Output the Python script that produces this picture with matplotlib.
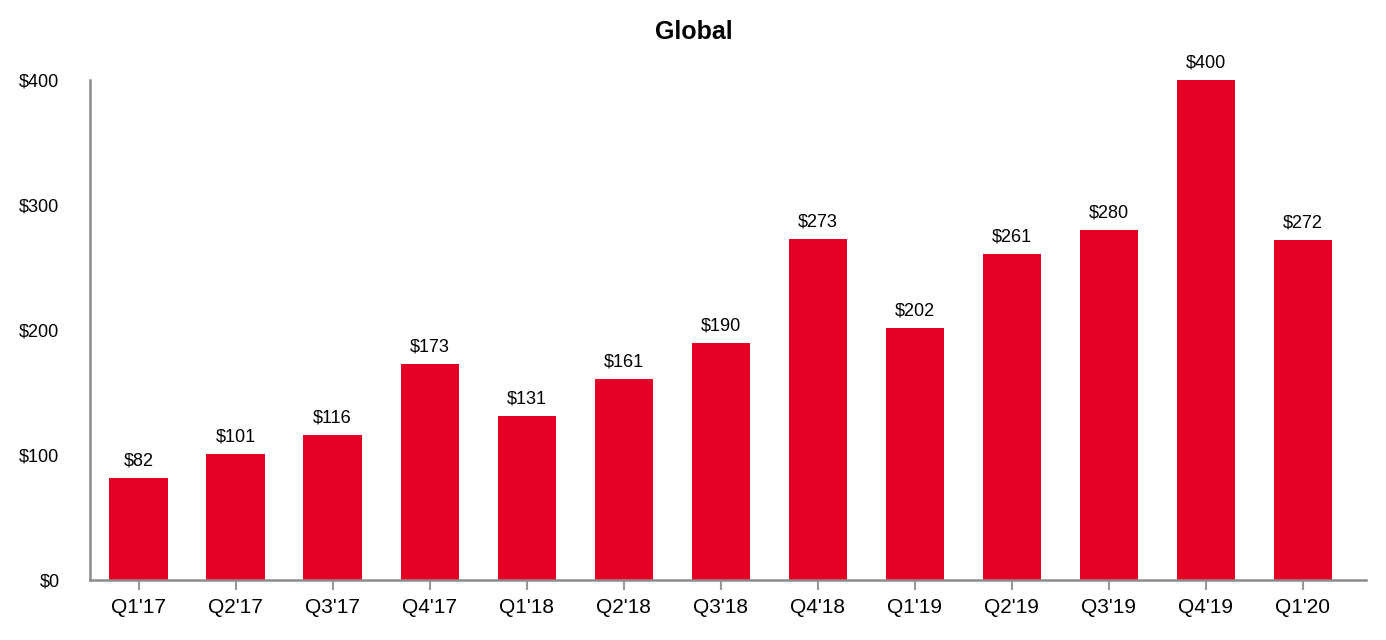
import matplotlib
matplotlib.use("Agg")
import matplotlib.pyplot as plt

categories = ["Q1'17", "Q2'17", "Q3'17", "Q4'17", "Q1'18", "Q2'18", "Q3'18",
              "Q4'18", "Q1'19", "Q2'19", "Q3'19", "Q4'19", "Q1'20"]
values = [82, 101, 116, 173, 131, 161, 190, 273, 202, 261, 280, 400, 272]
ytick_vals = [0, 100, 200, 300, 400]
ytick_labels = ["$0", "$100", "$200", "$300", "$400"]

plt.rcParams['font.family'] = ['Liberation Sans', 'DejaVu Sans']

fig = plt.figure(figsize=(13.86, 6.4), dpi=100)
ax = fig.add_axes([90/1386, 60/640, (1366-90)/1386, 500/640])

x = list(range(len(categories)))
bars = ax.bar(x, values, width=0.6, color="#E40024", zorder=2)
for xi, v in zip(x, values):
    ax.annotate(f"${v}", (xi, v), xytext=(0, 6), textcoords="offset points",
                ha="center", va="bottom", fontsize=13, color="black",
                annotation_clip=False)

ax.set_xlim(-0.5, 12.65)
ax.set_ylim(0, 400)
ax.set_xticks(x)
ax.set_xticklabels(categories, fontsize=15)
ax.set_yticks(ytick_vals)
ax.set_yticklabels(ytick_labels, fontsize=13)
ax.tick_params(axis="y", length=0, pad=22)
ax.tick_params(axis="x", length=7, width=1.5, color="#999999", pad=6)

for s in ["top", "right"]:
    ax.spines[s].set_visible(False)
for s in ["left", "bottom"]:
    ax.spines[s].set_color("#8c8c8c")
    ax.spines[s].set_linewidth(1.8)

fig.text(694/1386, 1 - 32/640, "Global", ha="center", va="center",
         fontsize=18, fontweight="bold")

fig.savefig("out.png", dpi=100)
